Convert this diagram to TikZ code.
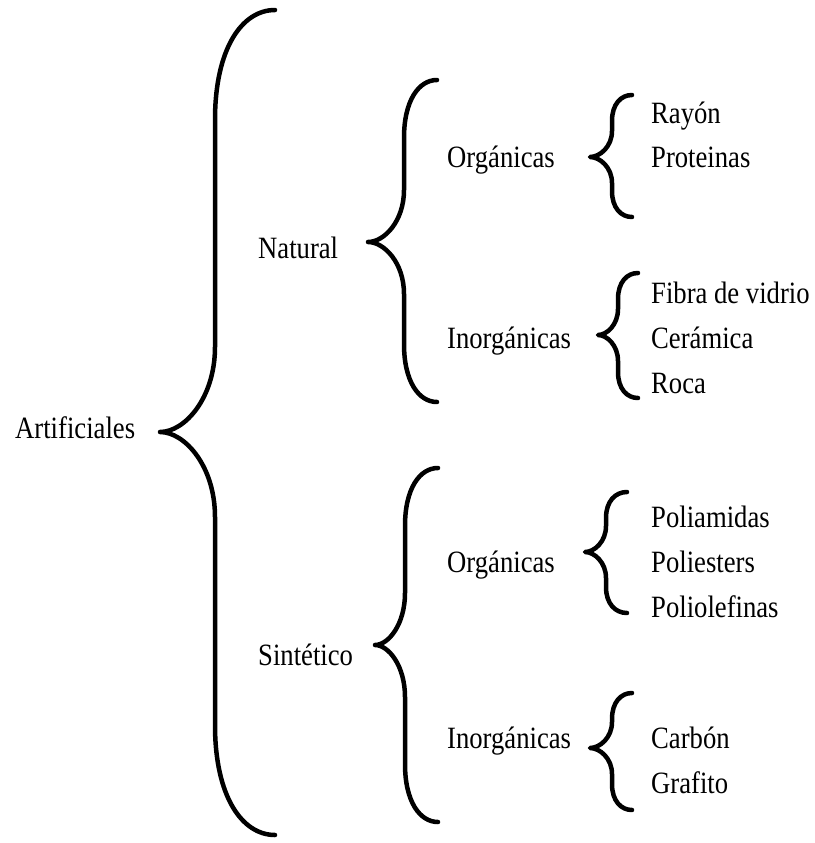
\documentclass[tikz,border=0pt]{standalone}
\usepackage{fontspec}
\setmainfont{Liberation Serif}[FakeStretch=0.86]
\begin{document}
\begin{tikzpicture}[x=1pt,y=-1pt,
  label/.style={anchor=base west,inner sep=0pt,font=\fontsize{31}{37}\selectfont},
  bracestyle/.style={line width=4.5pt,line cap=round,line join=round}]
\useasboundingbox (0,0) rectangle (814,843);
% curly brace: #1 tip x, #2 tip y, #3 stem x, #4 end x, #5 top y, #6 bottom y, #7 end bend, #8 tip bend
\newcommand\curlybrace[8]{%
  \draw[bracestyle] (#4,#5)
    .. controls ({#3+0.45*(#4-#3)},#5) and (#3,{#5+0.35*#7}) .. (#3,{#5+#7})
    -- (#3,{#2-#8})
    .. controls (#3,{#2-0.4*#8}) and ({#1+0.45*(#3-#1)},#2) .. (#1,#2)
    .. controls ({#1+0.45*(#3-#1)},#2) and (#3,{#2+0.4*#8}) .. (#3,{#2+#8})
    -- (#3,{#6-#7})
    .. controls (#3,{#6-0.35*#7}) and ({#3+0.45*(#4-#3)},#6) .. (#4,#6);}

% root
\node[label] (art) at (15,438) {Artificiales};
\curlybrace{160}{432}{215}{275}{10}{835}{110}{85}

% first level
\node[label] (nat) at (258,258) {Natural};
\node[label] (sin) at (258,665) {Sintético};
\curlybrace{368}{242}{404}{437}{80}{402}{58}{52}
\curlybrace{375}{645}{405}{438}{468}{822}{58}{52}

% second level
\node[label] (orgN) at (447,167) {Orgánicas};
\node[label] (inoN) at (447,348) {Inorgánicas};
\node[label] (orgS) at (447,572) {Orgánicas};
\node[label] (inoS) at (447,748) {Inorgánicas};
\curlybrace{590}{157}{612}{632}{95}{217}{26}{26}
\curlybrace{598}{335}{618}{638}{273}{398}{26}{26}
\curlybrace{585}{552}{606}{627}{492}{613}{26}{26}
\curlybrace{590}{748}{612}{632}{693}{810}{26}{26}

% leaves
\node[label] (ray) at (651,123) {Rayón};
\node[label] (pro) at (651,167) {Proteinas};
\node[label] (fib) at (651,303) {Fibra de vidrio};
\node[label] (cer) at (651,348) {Cerámica};
\node[label] (roc) at (651,393) {Roca};
\node[label] (pam) at (651,527) {Poliamidas};
\node[label] (pes) at (651,572) {Poliesters};
\node[label] (pol) at (651,617) {Poliolefinas};
\node[label] (car) at (651,748) {Carbón};
\node[label] (gra) at (651,793) {Grafito};
\end{tikzpicture}
\end{document}
